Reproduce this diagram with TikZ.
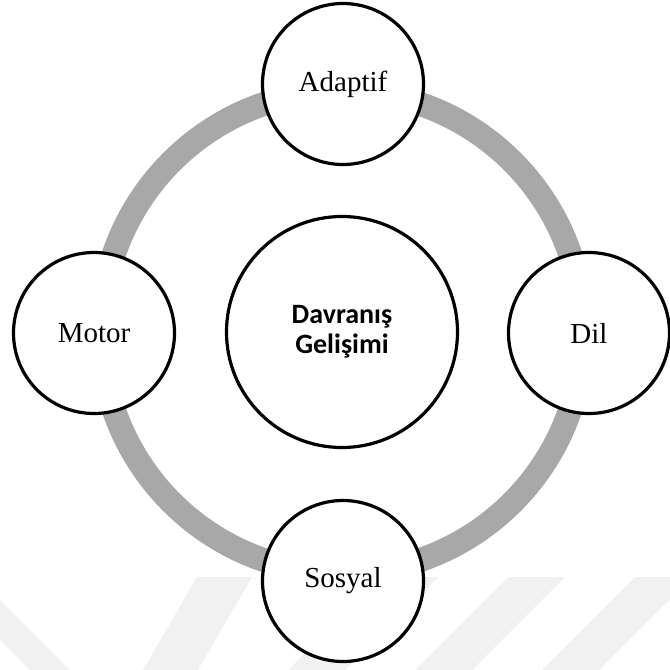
\documentclass[tikz,border=0pt]{standalone}
\usepackage{fontspec}
\setmainfont{Liberation Serif}
\newfontfamily\calibrifont{Carlito}
\definecolor{ringgray}{HTML}{A8A8A8}
\definecolor{wmgray}{HTML}{F1F1F1}
\tikzset{
  sat/.style={circle, draw=black, fill=white, line width=3.2pt, minimum size=161pt, inner sep=0pt,
              font=\fontsize{29}{32}\selectfont},
  hub/.style={circle, draw=black, fill=white, line width=3.2pt, minimum size=231pt, inner sep=0pt,
              align=center, font=\calibrifont\bfseries\fontsize{28}{30.5}\selectfont},
  ring/.style={draw=ringgray, line width=24pt},
  wm/.style={fill=wmgray, draw=none}
}
\begin{document}
\begin{tikzpicture}[x=1pt,y=-1pt]
\useasboundingbox (0,0) rectangle (670,670);
\begin{scope}
\clip (0,0) rectangle (670,670);
% faint watermark stripes
\fill[wm] (0,600) -- (0,640) -- (30,670) -- (70,670) -- cycle;
\fill[wm] (197,577) -- (252,577) -- (198,670) -- (143,670) -- cycle;
\fill[wm] (381,577) -- (438,577) -- (345,670) -- (288,670) -- cycle;
\fill[wm] (508,577) -- (565,577) -- (472,670) -- (415,670) -- cycle;
\fill[wm] (635,577) -- (692,577) -- (599,670) -- (542,670) -- cycle;
\end{scope}
\coordinate (o) at (342,332);
\draw[ring] (o) circle[radius=241];
\node[hub] (hub) at (o) {Davranış\\Gelişimi};
\node[sat] (adaptif) at (343,84) {Adaptif};
\node[sat] (sosyal) at (343,581) {Sosyal};
\node[sat] (motor) at (94,333) {Motor};
\node[sat] (dil) at (589,333) {Dil};
\end{tikzpicture}
\end{document}
